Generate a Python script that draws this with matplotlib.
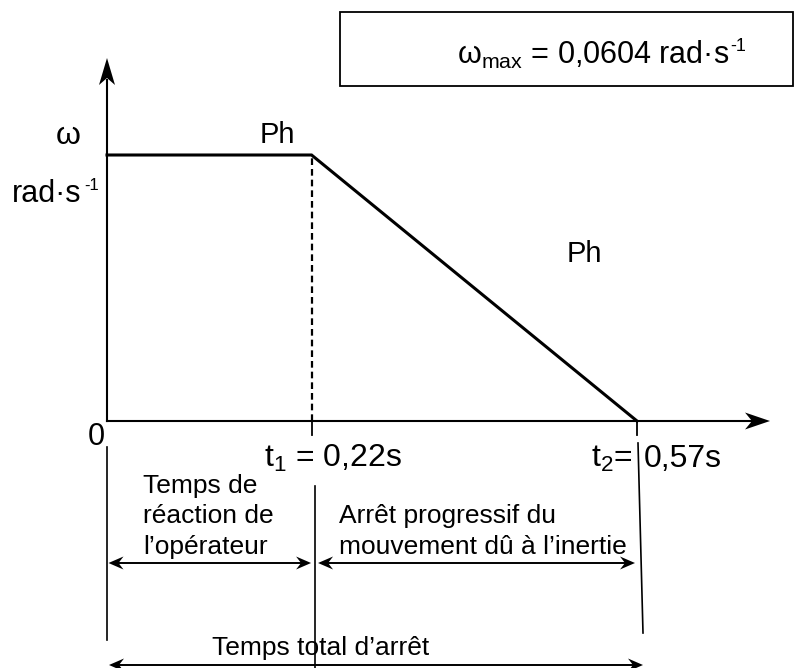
import matplotlib.pyplot as plt
from matplotlib.patches import Polygon, Rectangle
from matplotlib.transforms import blended_transform_factory

# angular speed profile during stopping
T_POINTS = [0.0, 0.22, 0.57]          # s
W_POINTS = [0.0604, 0.0604, 0.0]      # rad/s
W_MAX = 0.0604
T1, T2 = 0.22, 0.57

plt.rcParams.update({
    "font.family": ["Liberation Sans", "DejaVu Sans"],
    "mathtext.fontset": "custom",
    "mathtext.rm": "Liberation Sans",
    "mathtext.it": "Liberation Sans",
    "mathtext.default": "regular",
})

W, H = 795, 668
fig = plt.figure(figsize=(W / 100, H / 100), dpi=100)

# pixel overlay for the drawing furniture (arrows, brackets, labels)
ov = fig.add_axes([0, 0, 1, 1])
ov.set_xlim(0, W)
ov.set_ylim(H, 0)
ov.axis("off")

# data axes: t=0 -> x=107px, t=T2 -> x=637px ; w=0 -> y=421px, w=max -> y=155px
X0, X1, Y0, Y1 = 107, 637, 421, 155
sx = (X1 - X0) / T2
sy = (Y0 - Y1) / W_MAX
ax = fig.add_axes([0, 0, 1, 1], zorder=2)
ax.patch.set_alpha(0)
ax.axis("off")
ax.set_xlim(-X0 / sx, (W - X0) / sx)
ax.set_ylim(-(H - Y0) / sy, Y0 / sy)
tx = blended_transform_factory(ax.transData, ov.transData)

K = "black"


def head(t, y, d, L=15, hw=6.5, notch=10):
    # stealth arrow head pointing along +x (d=1) or -x (d=-1), t in data, y in px
    pts = [(t, y), (t - d * L / sx, y - hw), (t - d * notch / sx, y),
           (t - d * L / sx, y + hw)]
    ov.add_patch(Polygon(pts, closed=True, color=K, transform=tx, lw=0))


def dbl(ta, tb, y):
    ov.plot([ta + 6 / sx, tb - 6 / sx], [y, y], color=K, lw=1.4, transform=tx)
    head(ta, y, -1)
    head(tb, y, 1)


# curve and the dashed marker at t1
ax.plot(T_POINTS, W_POINTS, color=K, lw=2.2, solid_joinstyle="miter")
ax.plot([T1, T1], [0, W_MAX], color=K, lw=1.6, dashes=(3, 1.8))

# axes with arrows
ov.plot([X0, 755], [Y0, Y0], color=K, lw=1.5)
ov.add_patch(Polygon([(770, Y0), (745, Y0 - 8.5), (752, Y0), (745, Y0 + 8.5)],
                     closed=True, color=K, lw=0))
ov.plot([X0, X0], [Y0, 80], color=K, lw=1.5)
ov.add_patch(Polygon([(X0, 58), (X0 - 8, 85), (X0, 78), (X0 + 8, 85)],
                     closed=True, color=K, lw=0))

# ticks below the time axis
for t in (T1, T2):
    ov.plot([t, t], [Y0, 435], color=K, lw=1.3, transform=tx)

# bracket verticals
mid = T1 + 3 / sx
ov.plot([0, 0], [447, 640], color=K, lw=1.2, transform=tx)
ov.plot([mid, mid], [486, H], color=K, lw=1.2, transform=tx)
ov.plot([T2 + 1 / sx, T2 + 6 / sx], [443, 633], color=K, lw=1.2, transform=tx)

# double arrows
dbl(1.5 / sx, mid - 3.5 / sx, 563)
dbl(mid + 3.5 / sx, T2 - 2 / sx, 563)
dbl(2 / sx, T2 + 6 / sx, 665)

# labels
fs = 19
ov.text(68, 144, "ω", fontsize=23, ha="center", va="baseline")
ov.text(12, 202, "rad·s", fontsize=22, ha="left", va="baseline")
ov.text(84, 190, "-1", fontsize=12, ha="left", va="baseline")
ov.text(277, 143, "Ph", fontsize=21, ha="center", va="baseline")
ov.text(584, 262, "Ph", fontsize=21, ha="center", va="baseline")
ov.text(96, 445, "0", fontsize=22, ha="center", va="baseline")
ov.text(264, 467, "t$_{1}$ = 0,22s", fontsize=23, ha="left", va="baseline")
ov.text(591, 467, "t$_{2}$=", fontsize=23, ha="left", va="baseline")
ov.text(644, 467, "0,57s", fontsize=23, ha="left", va="baseline")

ov.text(143, 493, "Temps de", fontsize=fs, ha="left", va="baseline")
ov.text(143, 523, "réaction de", fontsize=fs, ha="left", va="baseline")
ov.text(143, 554, "l’opérateur", fontsize=fs, ha="left", va="baseline")
ov.text(339, 523, "Arrêt progressif du", fontsize=fs, ha="left", va="baseline")
ov.text(339, 554, "mouvement dû à l’inertie", fontsize=fs, ha="left", va="baseline")
ov.text(212, 655, "Temps total d’arrêt", fontsize=fs, ha="left", va="baseline")

# value box
ov.add_patch(Rectangle((340, 12), 453, 74, fill=False, ec=K, lw=1.3))
box_txt = ov.text(457, 64, "ω$_{max}$ = 0,0604 rad·s", fontsize=22,
                  ha="left", va="baseline")
ov.annotate("-1", xy=(1, 1), xycoords=box_txt, xytext=(1, 1),
            textcoords="offset points", fontsize=13, ha="left", va="top")

fig.savefig("out.png", dpi=100)
